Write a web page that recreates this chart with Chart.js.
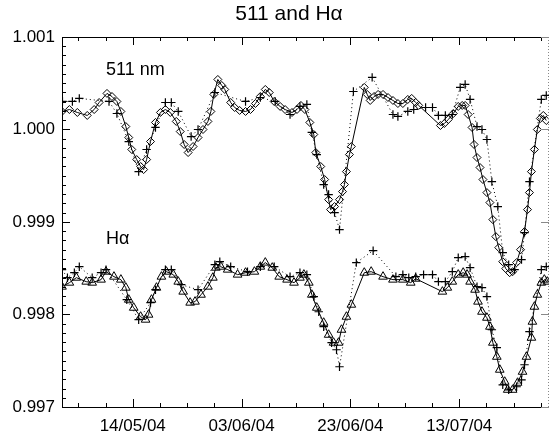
<!DOCTYPE html>
<html>
<head>
<meta charset="utf-8">
<script src="https://cdn.jsdelivr.net/npm/chart.js@4.4.1/dist/chart.umd.min.js"></script>
<style>
  html, body { margin: 0; padding: 0; background: #fff; }
  canvas { display: block; }
</style>
</head>
<body>
<canvas id="lineChart" width="555" height="442"></canvas>
<script>
// days counted from 01/05/04
const xTickDays = [13, 33, 53, 73];
const xTickLabels = ["14/05/04", "03/06/04", "23/06/04", "13/07/04"];
const yTicks = [0.997, 0.998, 0.999, 1.000, 1.001];

// 511 nm, diamonds (solid line)
const days511 = [0, 1.36, 2.82, 4.64, 5.91, 6.82, 8.27, 9.18, 10.09, 10.82, 11.73, 12.27, 12.82, 13.73, 14.45, 15.0, 15.55, 16.27, 17.18, 18.09,
  19.0, 19.91, 21.0, 21.73, 22.45, 23.18, 24.09, 25.0, 25.91, 26.82, 27.36, 27.91, 28.64, 29.36, 29.91, 31.0, 31.73, 32.64, 33.73, 34.64,
  35.55, 36.45, 37.36, 38.09, 39.0, 40.09, 41.0, 42.27, 43.18, 43.91, 44.64, 45.55, 46.27, 46.64, 47.55, 48.27, 49.0, 49.36, 50.09, 51.0,
  51.55, 51.91, 52.27, 52.82, 53.18, 55.55, 56.09, 56.64, 57.36, 58.09, 59.0, 59.91, 60.82, 61.73, 62.64, 63.55, 64.27, 65.0, 65.55,
  69.55, 70.27, 71.0, 71.91, 72.82, 73.55, 74.09, 74.64, 75.36, 75.73, 76.27, 76.82, 77.36, 78.09, 78.64, 79.18, 79.73, 80.27, 81.0,
  81.55, 82.27, 82.82, 83.55, 84.27, 85.0, 85.55, 85.91, 86.27, 86.82, 87.36, 87.91, 88.45, 89.0];
const vals511 = [1.000195, 1.000216, 1.000184, 1.000152, 1.000216, 1.000292, 1.000390, 1.000357, 1.000303, 1.000195, 1.000032, 0.999913,
  0.999784, 0.999675, 0.999600, 0.999567, 0.999675, 0.999870, 1.000076, 1.000184, 1.000216, 1.000184, 1.000087, 0.999978, 0.999838,
  0.999751, 0.999816, 0.999913, 1.000000, 1.000087, 1.000195, 1.000379, 1.000541, 1.000476, 1.000433, 1.000292, 1.000238, 1.000206,
  1.000195, 1.000216, 1.000281, 1.000357, 1.000433, 1.000400, 1.000303, 1.000249, 1.000216, 1.000184, 1.000216, 1.000260, 1.000216,
  1.000076, 0.999946, 0.999751, 0.999600, 0.999459, 0.999242, 0.999134, 0.999167, 0.999242, 0.999329, 0.999405, 0.999545, 0.999729,
  0.999816, 1.000455, 1.000379, 1.000314, 1.000357, 1.000379, 1.000379, 1.000346, 1.000314, 1.000281, 1.000281, 1.000325, 1.000336,
  1.000292, 1.000260, 1.000043, 1.000065, 1.000108, 1.000173, 1.000249, 1.000260, 1.000260, 1.000162, 1.000022, 0.999838, 0.999697,
  0.999589, 0.999459, 0.999318, 0.999210, 0.999026, 0.998842, 0.998723, 0.998571, 0.998496, 0.998452, 0.998463, 0.998561, 0.998701,
  0.998896, 0.999134, 0.999318, 0.999545, 0.999784, 1.000000, 1.000119, 1.000152, 1.000097];

// 511 nm, crosses (dotted line)
const daysPlus511 = [0.09, 1.91, 3.18, 8.64, 10.09, 12.27, 14.09, 15.55, 17.18, 19.0, 20.09, 21.36, 23.73, 25.0, 28.09, 33.73, 36.45,
  39.18, 41.91, 43.73, 45.0, 45.91, 46.82, 48.09, 49.0, 50.09, 51.0, 53.55, 57.0, 60.82, 61.73, 63.55, 64.64, 66.82, 68.09, 69.18,
  70.45, 71.73, 73.18, 74.09, 75.0, 76.27, 77.18, 78.09, 79.0, 80.09, 81.0, 82.09, 83.18, 84.45, 85.0, 85.91, 88.09, 89.0];
const valsPlus511 = [1.000303, 1.000303, 1.000336, 1.000303, 1.000173, 0.999870, 0.999545, 0.999784, 1.000022, 1.000292, 1.000292,
  1.000195, 0.999924, 1.000000, 1.000400, 1.000303, 1.000346, 1.000303, 1.000162, 1.000249, 1.000271, 0.999968, 0.999729, 0.999405,
  0.999297, 0.999102, 0.998918, 1.000411, 1.000563, 1.000162, 1.000141, 1.000195, 1.000216, 1.000238, 1.000238, 1.000152, 1.000152,
  1.000162, 1.000455, 1.000487, 1.000325, 1.000032, 1.000000, 0.999892, 0.999437, 0.999167, 0.998669, 0.998539, 0.998485, 0.998593,
  0.998885, 0.999437, 1.000325, 1.000368];

// H-alpha, triangles (solid line)
const daysHa = [0, 1.36, 2.64, 4.45, 5.55, 7.18, 8.09, 9.55, 10.82, 11.73, 12.27, 13.18, 14.45, 15.36, 15.91, 16.45, 17.36, 18.27, 19.18,
  20.45, 21.36, 22.27, 23.55, 24.45, 25.55, 26.82, 27.73, 28.27, 29.18, 30.45, 32.27, 33.73, 35.36, 36.45, 37.36, 38.64, 39.91, 41.36,
  42.64, 43.73, 44.45, 45.36, 45.91, 46.82, 48.09, 49.0, 49.91, 50.82, 51.36, 52.27, 53.18, 55.55, 56.82, 59.0, 60.82, 62.64, 64.09,
  65.0, 69.91, 70.82, 71.73, 72.82, 73.73, 74.45, 75.0, 75.91, 76.45, 77.18, 78.09, 78.64, 79.18, 79.91, 80.45, 81.36, 81.91, 82.82,
  83.73, 84.64, 85.36, 86.27, 86.45, 86.82, 87.36, 88.09, 88.64, 89.18];
const valsHa = [0.998301, 0.998344, 0.998398, 0.998355, 0.998344, 0.998377, 0.998463, 0.998409, 0.998377, 0.998290, 0.998160, 0.998073,
  0.997976, 0.997944, 0.997998, 0.998160, 0.998290, 0.998409, 0.998463, 0.998431, 0.998355, 0.998247, 0.998128, 0.998139, 0.998214,
  0.998301, 0.998398, 0.998506, 0.998517, 0.998485, 0.998431, 0.998452, 0.998463, 0.998517, 0.998561, 0.998506, 0.998409, 0.998377,
  0.998344, 0.998398, 0.998431, 0.998344, 0.998214, 0.998073, 0.997911, 0.997781, 0.997695, 0.997695, 0.997835, 0.997976, 0.998106,
  0.998452, 0.998463, 0.998409, 0.998377, 0.998377, 0.998344, 0.998387, 0.998247, 0.998290, 0.998355, 0.998431, 0.998452, 0.998431,
  0.998355, 0.998268, 0.998139, 0.998030, 0.997965, 0.997868, 0.997695, 0.997543, 0.997403, 0.997273, 0.997186, 0.997186, 0.997262,
  0.997381, 0.997543, 0.997749, 0.997922, 0.998084, 0.998214, 0.998344, 0.998377, 0.998355];

// H-alpha, crosses (dotted line)
const daysPlusHa = [0, 1.0, 2.27, 3.18, 5.55, 7.18, 8.09, 11.91, 14.09, 16.27, 17.18, 19.0, 20.09, 21.91, 25.0, 28.09, 29.0, 31.0, 34.09,
  36.45, 39.0, 41.91, 43.73, 45.0, 46.27, 47.18, 48.09, 49.55, 50.45, 51.0, 54.09, 57.18, 61.36, 62.64, 63.73, 65.0, 66.45, 68.09,
  69.18, 70.45, 71.73, 72.82, 74.09, 75.0, 76.27, 77.18, 78.09, 79.0, 79.91, 81.0, 82.09, 83.55, 84.45, 85.0, 85.91, 88.09, 89.0];
const valsPlusHa = [0.998485, 0.998398, 0.998452, 0.998517, 0.998398, 0.998452, 0.998485, 0.998160, 0.997944, 0.998128, 0.998268,
  0.998485, 0.998485, 0.998322, 0.998268, 0.998539, 0.998571, 0.998517, 0.998463, 0.998517, 0.998517, 0.998409, 0.998452, 0.998431,
  0.998193, 0.998030, 0.997868, 0.997695, 0.997619, 0.997435, 0.998561, 0.998690, 0.998409, 0.998431, 0.998398, 0.998409, 0.998431,
  0.998431, 0.998355, 0.998355, 0.998463, 0.998615, 0.998626, 0.998506, 0.998301, 0.998290, 0.998193, 0.997835, 0.997641, 0.997240,
  0.997186, 0.997219, 0.997294, 0.997457, 0.997814, 0.998485, 0.998517];

const FONT = "'Liberation Sans', Arial, Helvetica, sans-serif";

function toPoints(xs, ys) {
  return xs.map((x, i) => ({ x: x, y: ys[i] }));
}

// box, inward ticks, title and series labels
const framePlugin = {
  id: "frame",
  afterDraw(chart) {
    const ctx = chart.ctx;
    const area = chart.chartArea;
    const xs = chart.scales.x;
    const ys = chart.scales.y;

    ctx.save();
    ctx.strokeStyle = "#000";
    ctx.lineWidth = 1;
    ctx.beginPath();
    ctx.moveTo(area.right, area.top + 0.5);
    ctx.lineTo(area.left + 0.5, area.top + 0.5);
    ctx.lineTo(area.left + 0.5, area.bottom + 0.5);
    ctx.lineTo(area.right, area.bottom + 0.5);
    ctx.stroke();

    // x ticks, every 5 days
    for (let d = xTickDays[0] - 10; d <= xs.max; d += 5) {
      if (d < xs.min) continue;
      const px = Math.round(xs.getPixelForValue(d)) + 0.5;
      const len = xTickDays.includes(d) ? 8 : 4;
      ctx.beginPath();
      ctx.moveTo(px, area.bottom);
      ctx.lineTo(px, area.bottom - len);
      ctx.moveTo(px, area.top);
      ctx.lineTo(px, area.top + len);
      ctx.stroke();
    }

    // y ticks, minor every 0.0001
    for (let i = 0; i <= 40; i++) {
      const v = yTicks[0] + i * 0.0001;
      const py = Math.round(ys.getPixelForValue(v)) + 0.5;
      const len = i % 10 === 0 ? 8 : 4;
      ctx.beginPath();
      ctx.moveTo(area.left, py);
      ctx.lineTo(area.left + len, py);
      ctx.stroke();
    }

    // right axis, partly cut off
    ctx.strokeStyle = "#888";
    ctx.setLineDash([1, 2]);
    ctx.beginPath();
    ctx.moveTo(area.right - 0.5, area.top);
    ctx.lineTo(area.right - 0.5, area.bottom);
    ctx.stroke();
    ctx.setLineDash([]);
    yTicks.forEach(v => {
      const py = Math.round(ys.getPixelForValue(v)) + 0.5;
      ctx.beginPath();
      ctx.moveTo(area.right, py);
      ctx.lineTo(area.right - 8, py);
      ctx.stroke();
    });

    ctx.fillStyle = "#000";
    ctx.textBaseline = "middle";
    ctx.textAlign = "center";
    ctx.font = "21px " + FONT;
    ctx.fillText("511 and H\u03b1", 289, 14);

    ctx.textAlign = "left";
    ctx.font = "18px " + FONT;
    ctx.fillText("511 nm", 106, 70);
    ctx.fillText("H\u03b1", 106, 239);
    ctx.restore();
  }
};

new Chart(document.getElementById("lineChart"), {
  type: "line",
  data: {
    datasets: [
      {
        label: "511 nm",
        data: toPoints(days511, vals511),
        borderColor: "#000",
        borderWidth: 1,
        pointStyle: "rectRot",
        pointRadius: 4,
        pointBorderColor: "#000",
        pointBackgroundColor: "rgba(255,255,255,0)",
        pointBorderWidth: 1
      },
      {
        label: "511 nm +",
        data: toPoints(daysPlus511, valsPlus511),
        borderColor: "#000",
        borderWidth: 1,
        borderDash: [1, 3],
        pointStyle: "cross",
        pointRadius: 4.2,
        pointBorderColor: "#000",
        pointBorderWidth: 1.2
      },
      {
        label: "Ha",
        data: toPoints(daysHa, valsHa),
        borderColor: "#000",
        borderWidth: 1,
        pointStyle: "triangle",
        pointRadius: 5,
        pointBorderColor: "#000",
        pointBackgroundColor: "rgba(255,255,255,0)",
        pointBorderWidth: 1
      },
      {
        label: "Ha +",
        data: toPoints(daysPlusHa, valsPlusHa),
        borderColor: "#000",
        borderWidth: 1,
        borderDash: [1, 3],
        pointStyle: "cross",
        pointRadius: 4.2,
        pointBorderColor: "#000",
        pointBorderWidth: 1.2
      }
    ]
  },
  options: {
    responsive: false,
    animation: false,
    devicePixelRatio: 1,
    layout: { padding: { top: 37, right: 1, left: 0, bottom: 0 } },
    plugins: {
      legend: { display: false },
      tooltip: { enabled: false },
      title: { display: false }
    },
    scales: {
      x: {
        type: "linear",
        min: 0,
        max: 89.5,
        grid: { display: false, drawTicks: false },
        border: { display: false },
        afterFit: s => { s.height = 35; },
        afterBuildTicks: s => { s.ticks = xTickDays.map(v => ({ value: v })); },
        ticks: {
          padding: 9,
          maxRotation: 0,
          autoSkip: false,
          color: "#000",
          font: { family: FONT, size: 17 },
          callback: v => xTickLabels[xTickDays.indexOf(v)]
        }
      },
      y: {
        min: 0.997,
        max: 1.001,
        grid: { display: false, drawTicks: false },
        border: { display: false },
        afterFit: s => { s.width = 62; },
        afterBuildTicks: s => { s.ticks = yTicks.map(v => ({ value: v })); },
        ticks: {
          padding: 7,
          color: "#000",
          font: { family: FONT, size: 17 },
          callback: v => v.toFixed(3)
        }
      }
    }
  },
  plugins: [framePlugin]
});
</script>
</body>
</html>
